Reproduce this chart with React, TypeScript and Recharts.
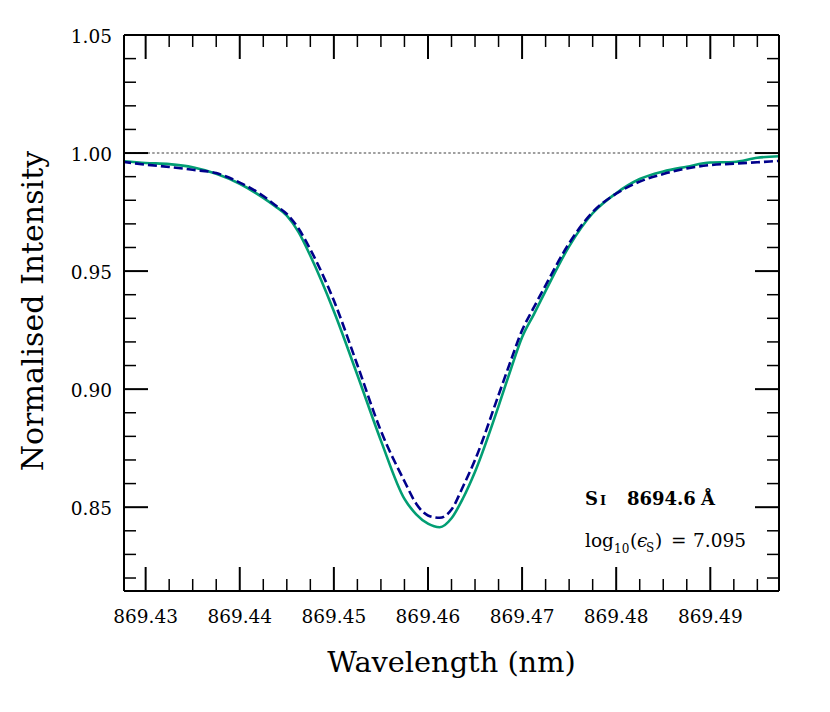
import React from 'react';
import { LineChart, Line, XAxis, YAxis, ReferenceLine } from 'recharts';

// ---- data ----
const wavelength = [
  869.4275, 869.43, 869.4325, 869.435, 869.4375, 869.44, 869.4425, 869.44375,
  869.445, 869.44625, 869.4475, 869.45, 869.4525, 869.455, 869.4575, 869.45875,
  869.46, 869.46125, 869.4625, 869.46375, 869.465, 869.4675, 869.46875, 869.47,
  869.47125, 869.4725, 869.475, 869.4775, 869.48, 869.4825, 869.485, 869.4875,
  869.49, 869.4925, 869.495, 869.4975,
];
const observed = [
  0.9966, 0.9958, 0.9953, 0.994, 0.9912, 0.987, 0.981, 0.9775,
  0.9735, 0.9665, 0.9565, 0.933, 0.906, 0.8782, 0.8535, 0.847,
  0.843, 0.8415, 0.8453, 0.854, 0.865, 0.8928, 0.9078, 0.922,
  0.9317, 0.9416, 0.9605, 0.9745, 0.983, 0.989, 0.9922, 0.9942,
  0.996, 0.9962, 0.998, 0.9987,
];
const model = [
  0.9963, 0.9951, 0.9941, 0.9929, 0.9915, 0.9875, 0.9818, 0.978,
  0.9742, 0.968, 0.9592, 0.9375, 0.9102, 0.8823, 0.861, 0.8515,
  0.8465, 0.8455, 0.849, 0.859, 0.87, 0.8975, 0.9115, 0.9249,
  0.9346, 0.944, 0.9618, 0.975, 0.9828, 0.9879, 0.9911, 0.9935,
  0.9949, 0.9955, 0.9961, 0.9967,
];
const xTicks = [
  869.43, 869.4325, 869.435, 869.4375, 869.44, 869.4425, 869.445, 869.4475,
  869.45, 869.4525, 869.455, 869.4575, 869.46, 869.4625, 869.465, 869.4675,
  869.47, 869.4725, 869.475, 869.4775, 869.48, 869.4825, 869.485, 869.4875,
  869.49, 869.4925, 869.495,
];
const yTicks = [
  0.82, 0.83, 0.84, 0.85, 0.86, 0.87, 0.88, 0.89, 0.9, 0.91, 0.92, 0.93,
  0.94, 0.95, 0.96, 0.97, 0.98, 0.99, 1.0, 1.01, 1.02, 1.03, 1.04, 1.05,
];
const xDomain = [869.4277, 869.4973];
const yDomain = [0.8145, 1.05];
const continuumLevel = 1.0;

const rows = wavelength.map((wl, i) => ({ wl, obs: observed[i], mod: model[i] }));

const FONT = "DejaVu Serif";
const MAJOR = 24;
const MINOR = 12;

const isMajorX = (v: number) => Math.abs(v * 100 - Math.round(v * 100)) < 1e-6;
const isMajorY = (v: number) => Math.abs(v * 20 - Math.round(v * 20)) < 1e-6;

const XTick = (props: any) => {
  const { x, y, payload, side } = props;
  const v = payload.value as number;
  const major = isMajorX(v);
  const len = major ? MAJOR : MINOR;
  const dir = side === 'top' ? 1 : -1;
  return (
    <g>
      <line x1={x} x2={x} y1={y} y2={y + dir * len} stroke="#000" strokeWidth={major ? 2 : 1.5} />
      {major && side !== 'top' && (
        <text x={x} y={y + 32} textAnchor="middle" style={{ fontFamily: FONT, fontSize: 18.5 }} fill="#000">
          {v.toFixed(2)}
        </text>
      )}
    </g>
  );
};

const YTick = (props: any) => {
  const { x, y, payload, side } = props;
  const v = payload.value as number;
  const major = isMajorY(v);
  const len = major ? MAJOR : MINOR;
  const dir = side === 'right' ? -1 : 1;
  return (
    <g>
      <line x1={x} x2={x + dir * len} y1={y} y2={y} stroke="#000" strokeWidth={major ? 2 : 1.5} />
      {major && side !== 'right' && (
        <text x={x - 12} y={y + 7.5} textAnchor="end" style={{ fontFamily: FONT, fontSize: 18.5 }} fill="#000">
          {v.toFixed(2)}
        </text>
      )}
    </g>
  );
};

const axisLine = { stroke: '#000', strokeWidth: 2 };

export default function App() {
  return (
    <div style={{ position: 'absolute', left: 0, top: 0, width: 830, height: 712, background: '#fff' }}>
      <LineChart
        width={830}
        height={712}
        data={rows}
        margin={{ top: 34, right: 50, bottom: 71, left: 64 }}
      >
        <XAxis
          dataKey="wl"
          type="number"
          domain={xDomain}
          allowDataOverflow
          ticks={xTicks}
          interval={0}
          height={50}
          tickSize={0}
          tickMargin={0}
          tickLine={false}
          axisLine={axisLine}
          tick={(p: any) => <XTick {...p} side="bottom" />}
        />
        <XAxis
          xAxisId="top"
          orientation="top"
          dataKey="wl"
          type="number"
          domain={xDomain}
          allowDataOverflow
          ticks={xTicks}
          interval={0}
          height={1}
          tickSize={0}
          tickMargin={0}
          tickLine={false}
          axisLine={axisLine}
          tick={(p: any) => <XTick {...p} side="top" />}
        />
        <YAxis
          type="number"
          domain={yDomain}
          allowDataOverflow
          ticks={yTicks}
          interval={0}
          width={60}
          tickSize={0}
          tickMargin={0}
          tickLine={false}
          axisLine={axisLine}
          tick={(p: any) => <YTick {...p} side="left" />}
        />
        <YAxis
          yAxisId="right"
          orientation="right"
          type="number"
          domain={yDomain}
          allowDataOverflow
          ticks={yTicks}
          interval={0}
          width={1}
          tickSize={0}
          tickMargin={0}
          tickLine={false}
          axisLine={axisLine}
          tick={(p: any) => <YTick {...p} side="right" />}
        />
        <ReferenceLine y={continuumLevel} stroke="#808080" strokeWidth={1.5} strokeDasharray="2.5 2.2" />
        <Line
          type="monotone"
          dataKey="obs"
          stroke="#029e73"
          strokeWidth={2.6}
          dot={false}
          isAnimationActive={false}
        />
        <Line
          type="monotone"
          dataKey="mod"
          stroke="#00008b"
          strokeWidth={2.6}
          strokeDasharray="9 4"
          dot={false}
          isAnimationActive={false}
        />
      </LineChart>
      <svg
        width={830}
        height={712}
        style={{ position: 'absolute', left: 0, top: 0, pointerEvents: 'none', fontFamily: FONT }}
        fill="#000"
      >
        <text x={451.5} y={672} textAnchor="middle" style={{ fontSize: 28.8 }}>
          Wavelength (nm)
        </text>
        <text transform="translate(43,311) rotate(-90)" x={0} y={0} textAnchor="middle" style={{ fontSize: 30 }}>
          Normalised Intensity
        </text>
        <text y={505} style={{ fontWeight: 'bold', fontSize: 18 }}>
          <tspan x={585}>S</tspan>
          <tspan x={600} style={{ fontSize: 13 }}>I</tspan>
          <tspan x={627}>8694.6</tspan>
          <tspan x={701}>Å</tspan>
        </text>
        <text y={547} style={{ fontSize: 18.5 }}>
          <tspan x={585}>log</tspan>
          <tspan x={614} y={553} style={{ fontSize: 12 }}>10</tspan>
          <tspan x={630} y={547}>(</tspan>
          <tspan x={637} style={{ fontStyle: 'italic' }}>ϵ</tspan>
          <tspan x={646} y={552} style={{ fontSize: 12 }}>S</tspan>
          <tspan x={655} y={547}>)</tspan>
          <tspan x={671}>=</tspan>
          <tspan x={693}>7.095</tspan>
        </text>
      </svg>
    </div>
  );
}
